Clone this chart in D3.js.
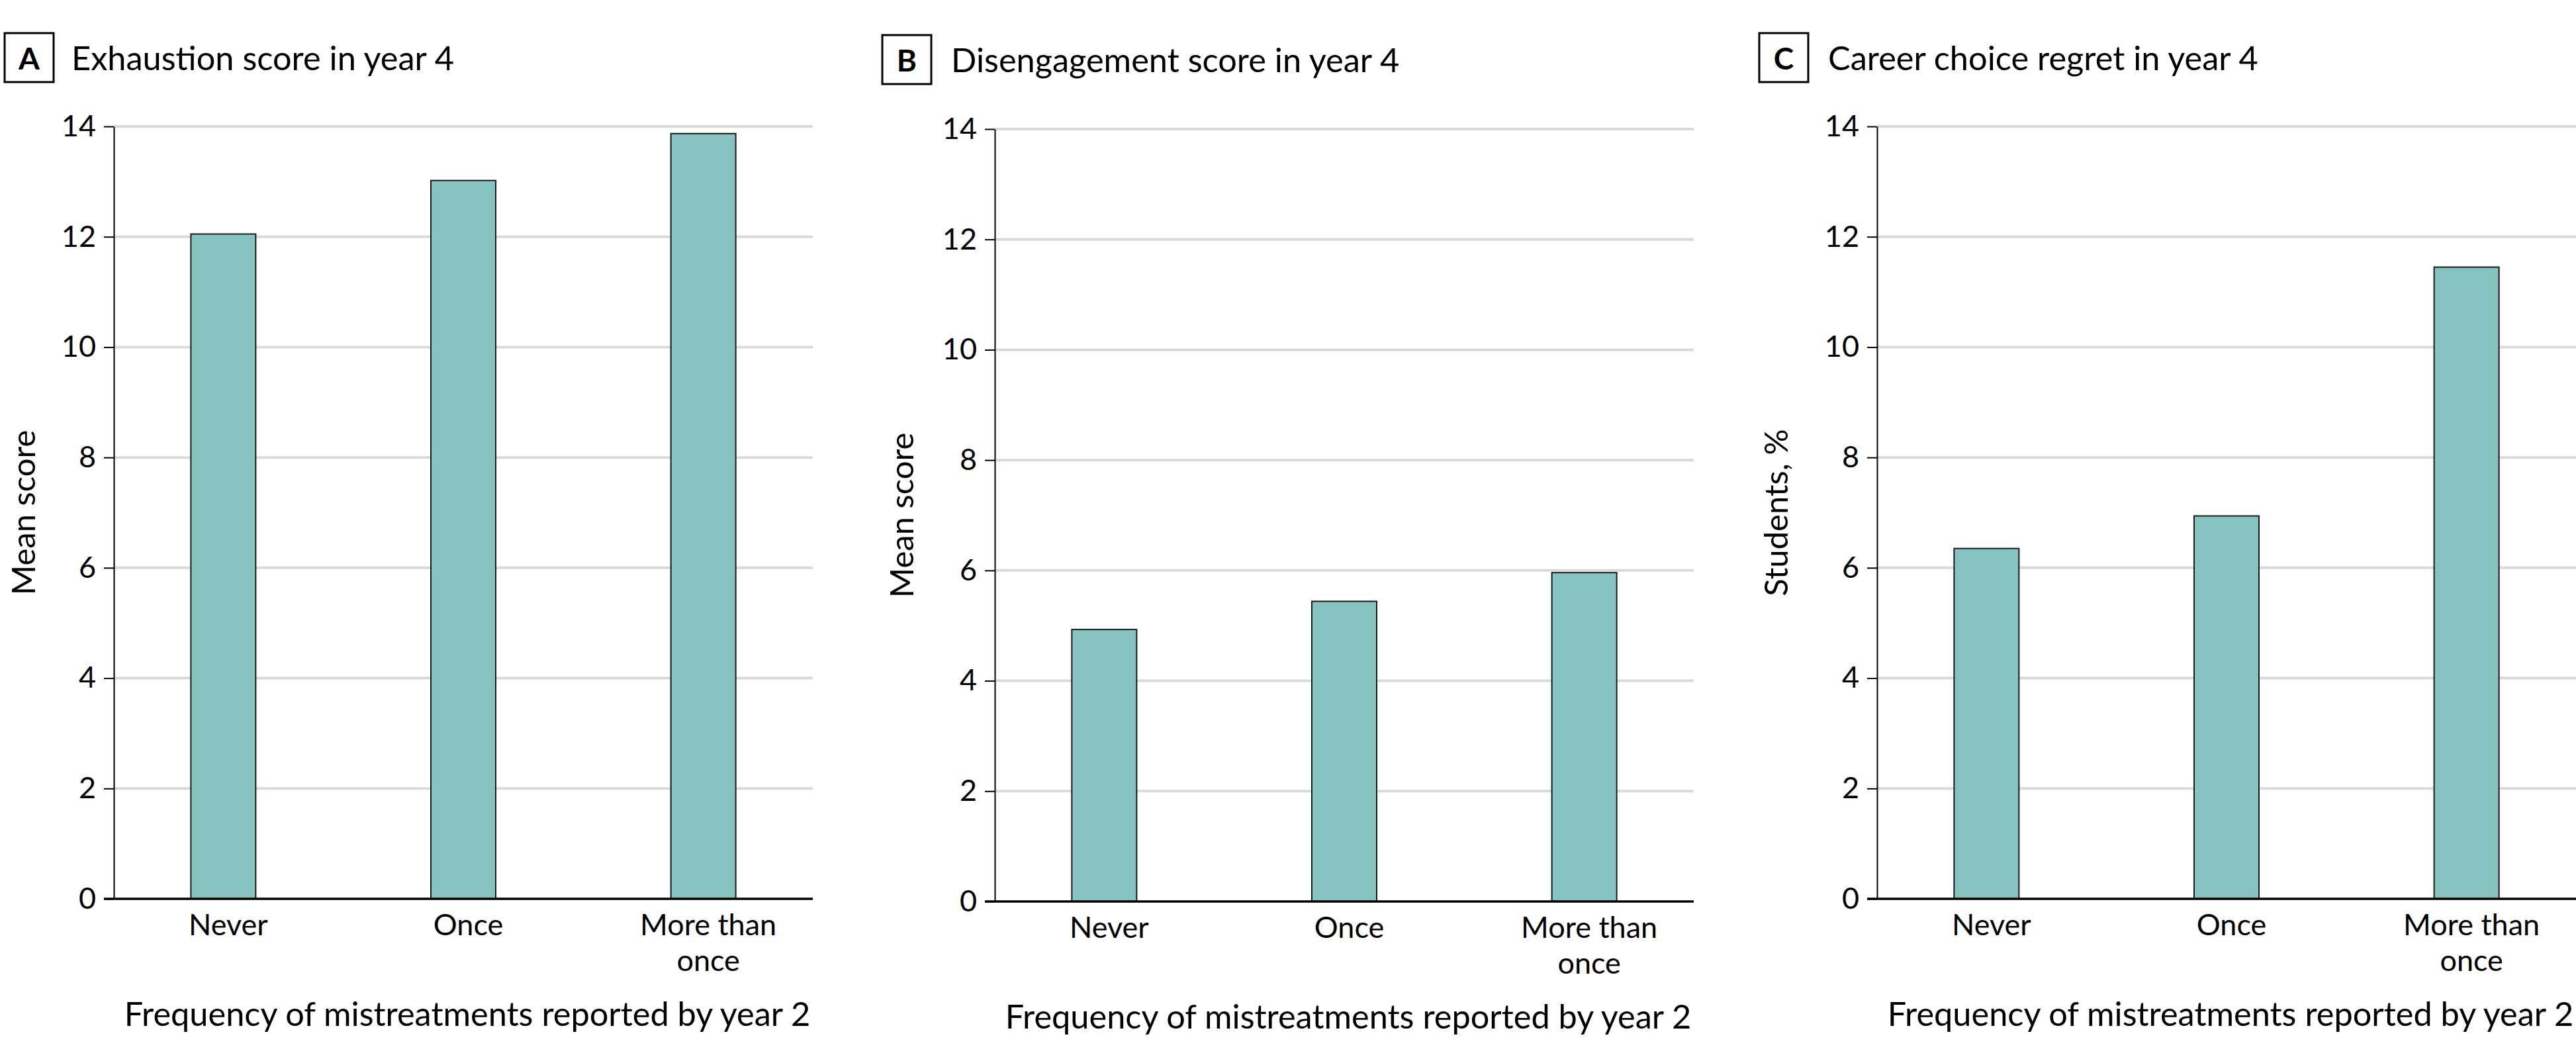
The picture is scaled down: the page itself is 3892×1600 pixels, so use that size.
<!DOCTYPE html>
<html>
<head>
<meta charset="utf-8">
<script src="https://cdn.jsdelivr.net/npm/d3@7"></script>
<style>
  body { margin: 0; background: #fff; }
  svg { display: block; }
  text { font-family: Lato, "Liberation Sans", sans-serif; fill: #000; }
</style>
</head>
<body>
<div id="chart"></div>
<script>
// categories and tick labels shared by the three panels
var categories = ["Never", "Once", "More than once"];
var categoryLines = [["Never"], ["Once"], ["More than", "once"]];
var yTicks = [0, 2, 4, 6, 8, 10, 12, 14];

var panelLetters = ["A", "B", "C"];
var panelTitles = ["Exhaustion score in year 4", "Disengagement score in year 4", "Career choice regret in year 4"];
var yTitles = ["Mean score", "Mean score", "Students, %"];
var xTitle = "Frequency of mistreatments reported by year 2";

// values
var exhaustion = [12.05, 13.02, 13.87];
var disengagement = [4.93, 5.44, 5.96];
var regret = [6.35, 6.94, 11.45];
var seriesValues = [exhaustion, disengagement, regret];

// layout (pixels)
var layout = {
    "width": 3892,
    "height": 1600,
    "plotWidth": 1056,
    "barWidth": 98,
    "boxSize": 74,
    "panels": [
        {"left": 172, "top": 191, "bottom": 1358, "boxX": 7, "boxY": 50, "titleX": 108, "titleY": 106, "yTitleX": 53},
        {"left": 1503, "top": 195, "bottom": 1362, "boxX": 1333, "boxY": 53, "titleX": 1437, "titleY": 109, "yTitleX": 1380},
        {"left": 2836, "top": 191, "bottom": 1358, "boxX": 2658, "boxY": 50, "titleX": 2762, "titleY": 106, "yTitleX": 2701}
    ]
};

var barFill = "#87c3c0",
    gridColor = "#d9d9d9";

var svg = d3.select("#chart").append("svg")
    .attr("width", layout.width)
    .attr("height", layout.height)
    .attr("viewBox", [0, 0, layout.width, layout.height]);

layout.panels.forEach(function(p, i) {
    var W = layout.plotWidth;

    // panel letter box and title
    svg.append("rect")
        .attr("x", p.boxX).attr("y", p.boxY)
        .attr("width", layout.boxSize).attr("height", layout.boxSize)
        .attr("fill", "#fff").attr("stroke", "#000").attr("stroke-width", 3);
    svg.append("text")
        .attr("x", p.boxX + layout.boxSize / 2)
        .attr("y", p.boxY + 55)
        .attr("text-anchor", "middle")
        .attr("font-size", 46).attr("font-weight", "bold")
        .text(panelLetters[i]);
    svg.append("text")
        .attr("x", p.titleX).attr("y", p.titleY)
        .attr("font-size", 50.5)
        .text(panelTitles[i]);

    var g = svg.append("g").attr("transform", "translate(" + p.left + ",0)");

    var x = d3.scalePoint()
        .domain(categories)
        .range([0, W])
        .padding(0.456);

    var y = d3.scaleLinear()
        .domain([0, 14])
        .range([p.bottom, p.top]);

    // gridlines
    g.append("g")
        .selectAll("line")
        .data(yTicks.filter(function(t) { return t > 0; }))
        .enter().append("line")
        .attr("x1", 0).attr("x2", W)
        .attr("y1", function(d) { return y(d); })
        .attr("y2", function(d) { return y(d); })
        .attr("stroke", gridColor)
        .attr("stroke-width", 4);

    // bars
    g.append("g")
        .selectAll("rect")
        .data(seriesValues[i])
        .enter().append("rect")
        .attr("x", function(d, j) { return x(categories[j]) - layout.barWidth / 2; })
        .attr("y", function(d) { return y(d); })
        .attr("width", layout.barWidth)
        .attr("height", function(d) { return p.bottom - y(d); })
        .attr("fill", barFill)
        .attr("stroke", "#1a1a1a")
        .attr("stroke-width", 2);

    // y axis
    var yAxis = g.append("g")
        .call(d3.axisLeft(y).tickValues(yTicks).tickSize(15).tickPadding(12).tickSizeOuter(0));
    yAxis.select(".domain").attr("stroke", "#000").attr("stroke-width", 2);
    yAxis.selectAll(".tick line").attr("stroke", "#000").attr("stroke-width", 2);
    yAxis.selectAll(".tick text")
        .attr("font-size", 45)
        .attr("font-family", "Lato, 'Liberation Sans', sans-serif")
        .attr("fill", "#000");

    // x axis baseline
    var xAxis = g.append("g")
        .attr("transform", "translate(0," + p.bottom + ")")
        .call(d3.axisBottom(x).tickSize(0).tickPadding(0).tickSizeOuter(0));
    xAxis.select(".domain").remove();
    xAxis.append("line")
        .attr("x1", -15).attr("x2", W)
        .attr("stroke", "#000").attr("stroke-width", 3.5);
    xAxis.selectAll(".tick text")
        .attr("font-size", 45)
        .attr("font-family", "Lato, 'Liberation Sans', sans-serif")
        .attr("fill", "#000")
        .attr("dy", null)
        .attr("y", 55)
        .text(null)
        .each(function(d) {
            var lines = categoryLines[categories.indexOf(d)];
            var t = d3.select(this);
            lines.forEach(function(line, k) {
                t.append("tspan")
                    .attr("x", 7)
                    .attr("dy", k === 0 ? 0 : 54)
                    .text(line);
            });
        });

    // axis titles
    g.append("text")
        .attr("x", W / 2 + 6)
        .attr("y", p.bottom + 192)
        .attr("text-anchor", "middle")
        .attr("font-size", 50.5)
        .text(xTitle);

    svg.append("text")
        .attr("transform", "translate(" + p.yTitleX + "," + ((p.top + p.bottom) / 2) + ") rotate(-90)")
        .attr("text-anchor", "middle")
        .attr("font-size", 49)
        .text(yTitles[i]);
});
</script>
</body>
</html>
